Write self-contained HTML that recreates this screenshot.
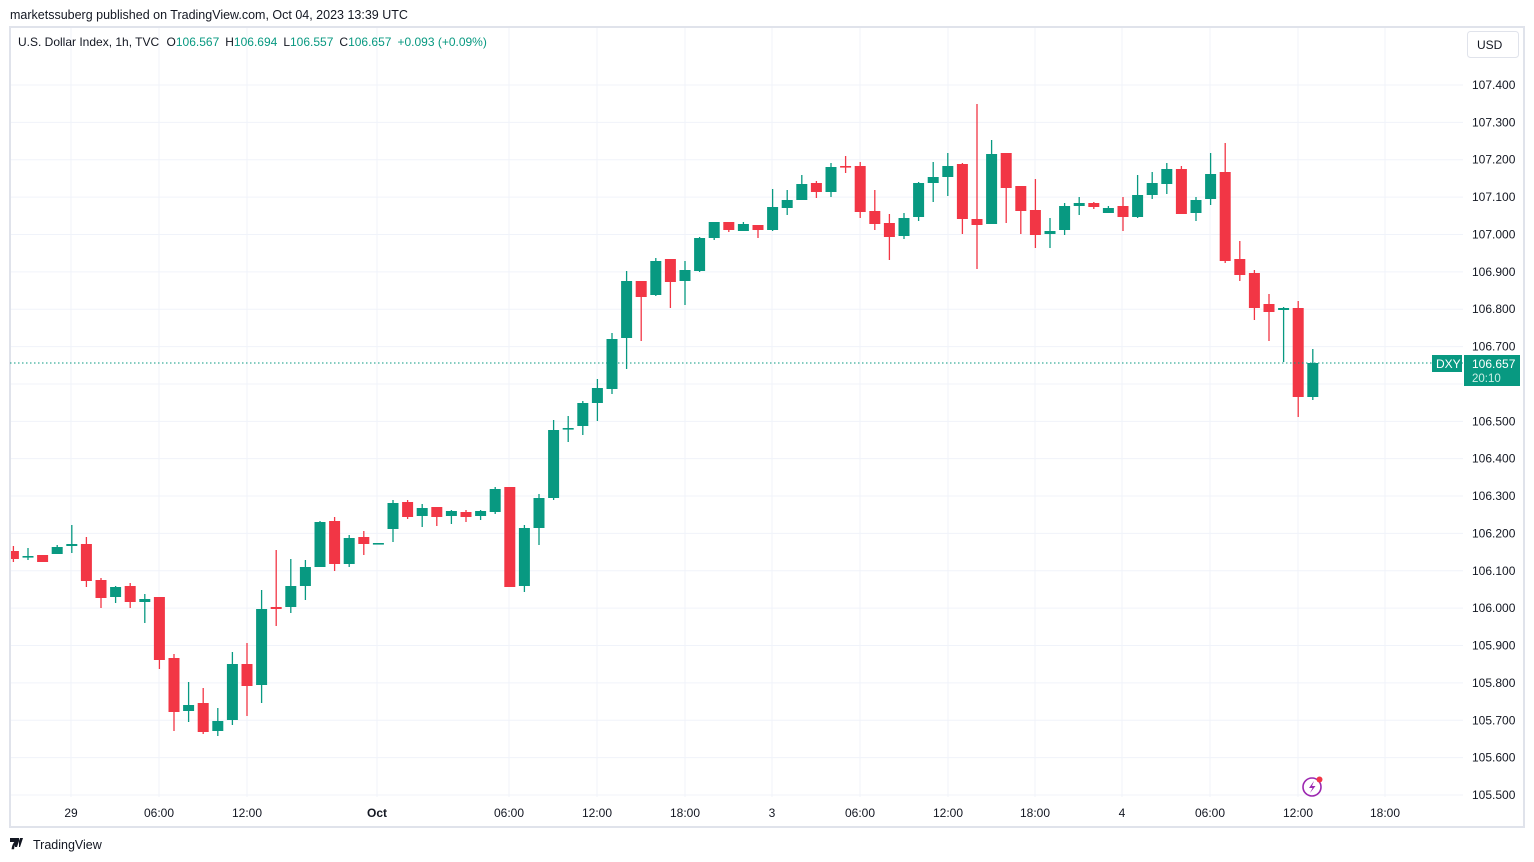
<!DOCTYPE html>
<html><head><meta charset="utf-8">
<style>
body{margin:0;width:1534px;height:862px;background:#fff;overflow:hidden;font-family:"Liberation Sans","DejaVu Sans",sans-serif;}
svg{position:absolute;left:0;top:0}
</style></head><body>
<svg id="s" width="1534" height="862" xmlns="http://www.w3.org/2000/svg" font-family="Liberation Sans, DejaVu Sans, sans-serif">
<rect x="0" y="0" width="1534" height="862" fill="#fff"/>
<text x="10" y="19" font-size="12.5" fill="#131722">marketssuberg published on TradingView.com, Oct 04, 2023 13:39 UTC</text>
<rect x="10" y="27" width="1514" height="800" fill="none" stroke="#e0e3eb" stroke-width="2"/>
<g id="grid" stroke="#f0f3fa" stroke-width="1"></g>
<g id="c"></g>
<line x1="10" y1="363" x2="1463" y2="363" stroke="#089981" stroke-dasharray="1.5,2.5" stroke-width="1"/>
<g id="lab" font-size="12" fill="#131722"></g>
<text x="18" y="46" font-size="12" fill="#131722">U.S. Dollar Index, 1h, TVC <tspan dx="4">O</tspan><tspan fill="#089981">106.567</tspan><tspan dx="6">H</tspan><tspan fill="#089981">106.694</tspan><tspan dx="6">L</tspan><tspan fill="#089981">106.557</tspan><tspan dx="6">C</tspan><tspan fill="#089981">106.657</tspan><tspan dx="6" fill="#089981">+0.093 (+0.09%)</tspan></text>
<rect x="1467.5" y="31.5" width="51" height="26" rx="3" fill="#fff" stroke="#e0e3eb"/>
<text x="1477" y="49" font-size="12" fill="#131722">USD</text>
<rect x="1432" y="355" width="30" height="17" fill="#089981"/>
<text x="1436" y="368" font-size="12" fill="#fff">DXY</text>
<rect x="1464" y="355" width="56" height="31" fill="#089981"/>
<text x="1472" y="368" font-size="12" fill="#fff">106.657</text>
<text x="1472" y="382" font-size="11.5" fill="#cdeee6">20:10</text>
<circle cx="1312" cy="787" r="9" fill="none" stroke="#9c27b0" stroke-width="1.6"/>
<path d="M1314 781 L1309 788 L1312.5 788 L1310 793 L1315.5 786 L1312 786 Z" fill="#9c27b0"/>
<circle cx="1319.5" cy="779.5" r="3" fill="#f23645"/>
<text x="10" y="849" font-size="14" font-weight="bold" fill="#131722">𝟕</text>
<path d="M10 838 h9 v9 h-4 v-5 h-5z M20 838 l-3 9 h3 l3-9z" fill="#131722"/>
<text x="33" y="849" font-size="12.5" fill="#131722">TradingView</text>
</svg>
<script>
const NS="http://www.w3.org/2000/svg";
function el(p,t,a){const e=document.createElementNS(NS,t);for(const k in a)e.setAttribute(k,a[k]);p.appendChild(e);return e;}
const grid=document.getElementById('grid'),lab=document.getElementById('lab'),cg=document.getElementById('c');
for(let k=0;k<=19;k++){const y=85+k*(710/19);el(grid,'line',{x1:11,x2:1463,y1:y,y2:y});
 const p=(107.4-k*0.1).toFixed(3);if(k!==8){const t=el(lab,'text',{x:1472,y:y+4});t.textContent=p;}}
const tl=[[71,"29"],[159,"06:00"],[247,"12:00"],[377,"Oct"],[509,"06:00"],[597,"12:00"],[685,"18:00"],[772,"3"],[860,"06:00"],[948,"12:00"],[1035,"18:00"],[1122,"4"],[1210,"06:00"],[1298,"12:00"],[1385,"18:00"]];
tl.forEach(([x,s])=>{el(grid,'line',{x1:x,x2:x,y1:28,y2:797});const t=el(lab,'text',{x:x,y:817,'text-anchor':'middle'});if(s==="Oct")t.setAttribute('font-weight','bold');t.textContent=s;});
// [o,c,h,l] in pixel y
const D=[[551,559,546,562],[556,556,548,560],[555,562,555,562],[554,547,545,554],[546,544,525,553],[544,581,537,587],[580,598,578,608],[597,587,586,603],[586,602,583,608],[602,599,594,623],[597,660,597,669],[658,712,654,731],[711,705,682,722],[703,732,688,734],[731,721,708,736],[720,664,652,725],[664,686,643,716],[685,609,590,703],[607,609,550,626],[607,586,559,613],[586,567,560,600],[567,522,521,567],[521,564,517,571],[564,538,535,567],[537,544,531,555],[543,543,543,543],[529,503,500,542],[502,517,500,519],[516,508,504,527],[507,517,507,526],[516,511,510,524],[512,517,510,522],[516,511,510,520],[512,489,487,514],[487,587,487,587],[586,528,525,592],[528,498,494,545],[498,430,420,500],[428,428,416,442],[426,403,401,435],[403,388,379,421],[389,339,333,394],[338,281,271,369],[281,297,281,341],[295,261,258,296],[259,282,259,308],[281,270,261,305],[271,238,237,272],[238,222,222,240],[222,230,222,232],[231,224,222,231],[225,230,225,238],[230,207,189,231],[208,200,190,215],[200,184,175,200],[183,192,181,198],[192,167,163,197],[166,166,156,173],[166,212,162,218],[211,224,190,230],[223,237,214,260],[236,218,213,239],[217,183,182,221],[183,177,162,202],[177,166,153,196],[164,219,163,234],[219,225,104,269],[224,154,140,224],[153,188,153,223],[186,211,186,234],[210,235,179,248],[234,231,218,248],[230,206,203,235],[206,203,197,215],[203,207,202,209],[213,208,206,213],[206,217,197,231],[217,195,175,218],[195,183,172,199],[184,169,163,194],[169,214,166,214],[213,200,197,221],[199,174,153,205],[172,261,143,263],[259,275,241,281],[273,308,270,320],[304,312,294,341],[310,308,307,362],[308,397,301,417],[397,363,349,400]];
D.forEach((d,i)=>{const x=13.4+i*14.6;const [o,c,h,l]=d;const up=c<=o&&!(i==2||i==0||i==57||i==24||i==51||i==49||i==55||i==74||i==86||i==45||i==43||i==34||i==31||i==29||i==27||i==22||i==18||i==16||i==13||i==11||i==10||i==8||i==6||i==5);
 const col=up?'#089981':'#F23645';const top=Math.min(o,c),bot=Math.max(o,c);
 el(cg,'line',{x1:x,x2:x,y1:h,y2:l,stroke:col,'stroke-width':1.3});
 const hh=Math.max(bot-top,1.6);const xl=Math.max(x-5.5,11);el(cg,'rect',{x:xl,y:top,width:x+5.5-xl,height:hh,fill:col});});
</script>
</body></html>
